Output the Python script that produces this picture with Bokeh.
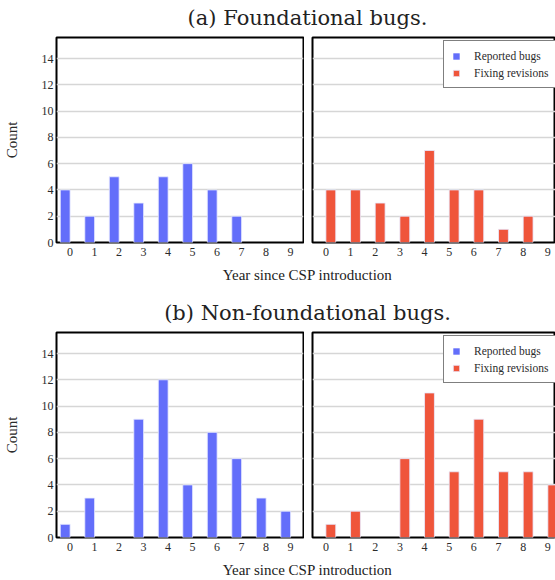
from bokeh.plotting import figure
from bokeh.layouts import column, row
from bokeh.models import Range1d, ColumnDataSource, Legend, LegendItem
from bokeh.core.properties import value
from bokeh.embed import file_html
from bokeh.resources import INLINE

years = list(range(10))
found_reported = [4, 2, 5, 3, 5, 6, 4, 2, 0, 0]
found_fixing = [4, 4, 3, 2, 7, 4, 4, 1, 2, 0]
nonfound_reported = [1, 3, 0, 9, 12, 4, 8, 6, 3, 2]
nonfound_fixing = [1, 2, 0, 6, 11, 5, 9, 5, 5, 4]
y_ticks = [0, 2, 4, 6, 8, 10, 12, 14]
section_titles = ["(a) Foundational bugs.", "(b) Non-foundational bugs."]
x_title = "Year since CSP introduction"
y_title = "Count"
series_names = ["Reported bugs", "Fixing revisions"]

BLUE = "#636EFA"
RED = "#EF553B"
SERIF = "Liberation Serif"
TITLE_FONT = "DejaVu Serif"
TXT = "#2b2b2b"
W = 555


def text_fig(txt, h, ypos, size, font):
    f = figure(width=W, height=h, x_range=Range1d(0, W), y_range=Range1d(0, h),
               output_backend="svg", toolbar_location=None,
               x_axis_type=None, y_axis_type=None, min_border=0)
    f.outline_line_color = None
    f.grid.visible = False
    f.text(x=[307], y=[ypos], text=[txt], text_align="center", text_baseline="middle",
           text_font=value(font), text_font_size=size, text_color="#222222")
    return f


def style_panel(p):
    p.outline_line_color = "black"
    p.outline_line_width = 2
    p.xgrid.visible = False
    p.ygrid.grid_line_color = "#d6d6d6"
    p.ygrid.grid_line_width = 1.5
    p.xaxis.ticker = years
    p.yaxis.ticker = y_ticks
    for ax in (p.xaxis[0], p.yaxis[0]):
        ax.axis_line_color = None
        ax.major_tick_line_color = None
        ax.minor_tick_line_color = None
        ax.major_tick_in = 0
        ax.major_tick_out = 0
        ax.major_label_text_font = SERIF
        ax.major_label_text_font_size = "12px"
        ax.major_label_text_color = TXT
    p.xaxis.major_label_standoff = 5
    p.yaxis.major_label_standoff = 3


def nonzero(vals, offset):
    xs = [y + offset for y, v in zip(years, vals) if v > 0]
    ts = [v for v in vals if v > 0]
    return ColumnDataSource(dict(x=xs, top=ts))


def section(rep, fix, title, last):
    left = figure(width=304, height=226, x_range=Range1d(-0.555, 9.526),
                  y_range=Range1d(0, 15.6), output_backend="svg", toolbar_location=None,
                  min_border_left=54, min_border_right=1, min_border_top=1, min_border_bottom=20)
    style_panel(left)
    left.yaxis.axis_label = y_title
    left.yaxis.axis_label_text_font = SERIF
    left.yaxis.axis_label_text_font_size = "15px"
    left.yaxis.axis_label_text_font_style = "normal"
    left.yaxis.axis_label_text_color = TXT
    left.yaxis.axis_label_standoff = 19
    left.vbar(x="x", top="top", width=0.4, source=nonzero(rep, -0.2), fill_color=BLUE,
              line_color="#e8ebff", line_width=0.8)

    right = figure(width=251, height=226, x_range=Range1d(-0.543, 9.31),
                   y_range=Range1d(0, 15.6), output_backend="svg", toolbar_location=None,
                   min_border_left=8, min_border_right=0, min_border_top=1, min_border_bottom=20)
    style_panel(right)
    right.yaxis.visible = False
    # the "Reported bugs" series has zero height in the fixing-revisions panel
    zero_src = ColumnDataSource(dict(x=[y - 0.2 for y in years], top=[0] * len(years)))
    rb = right.vbar(x="x", top="top", width=0.4, source=zero_src, fill_color=BLUE,
                    line_color=None)
    rr = right.vbar(x="x", top="top", width=0.4, source=nonzero(fix, 0.2), fill_color=RED,
                    line_color="#e8ebff", line_width=0.8)
    legend = Legend(items=[LegendItem(label=series_names[0], renderers=[rb]),
                           LegendItem(label=series_names[1], renderers=[rr])],
                    location=(131, 154), orientation="vertical")
    legend.label_text_font = SERIF
    legend.label_text_font_size = "11.5px"
    legend.label_text_color = TXT
    legend.glyph_width = 8
    legend.glyph_height = 8
    legend.label_standoff = 14
    legend.padding = 8
    legend.spacing = 4
    legend.label_height = 13
    legend.border_line_color = "black"
    legend.border_line_width = 1.5
    legend.background_fill_alpha = 1
    legend.margin = 0
    right.add_layout(legend, "center")

    t = text_fig(title, 36, 19, "21px", TITLE_FONT)
    xh = 23 if last else 33
    xl = text_fig(x_title, xh, xh - 12, "15px", SERIF)
    return [t, row(left, right, spacing=0), xl]


parts = section(found_reported, found_fixing, section_titles[0], False) + \
        section(nonfound_reported, nonfound_fixing, section_titles[1], True)
layout = column(*parts, spacing=0)

open("out.html", "w").write(file_html(layout, INLINE))
